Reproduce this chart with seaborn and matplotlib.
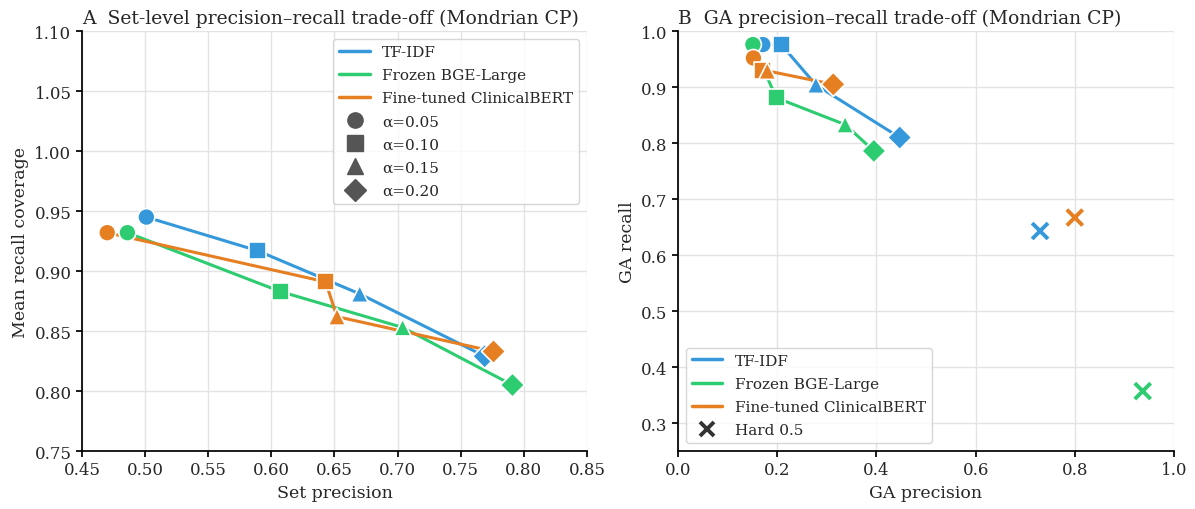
import numpy as np
import pandas as pd
import seaborn as sns
import matplotlib.pyplot as plt
from matplotlib.lines import Line2D

# 数据
methods = ['TF-IDF', 'Frozen BGE-Large', 'Fine-tuned ClinicalBERT']
alphas = ['α=0.05', 'α=0.10', 'α=0.15', 'α=0.20']
colors = {'TF-IDF': '#3498db', 'Frozen BGE-Large': '#2ecc71', 'Fine-tuned ClinicalBERT': '#e67e22'}
markers = {'α=0.05': 'o', 'α=0.10': 's', 'α=0.15': '^', 'α=0.20': 'D'}

set_precision = {
    'TF-IDF': [0.501, 0.589, 0.670, 0.769],
    'Frozen BGE-Large': [0.486, 0.607, 0.704, 0.791],
    'Fine-tuned ClinicalBERT': [0.470, 0.643, 0.652, 0.776],
}
recall_coverage = {
    'TF-IDF': [0.945, 0.917, 0.881, 0.829],
    'Frozen BGE-Large': [0.932, 0.883, 0.853, 0.805],
    'Fine-tuned ClinicalBERT': [0.932, 0.891, 0.862, 0.833],
}
ga_precision = {
    'TF-IDF': [0.171, 0.208, 0.278, 0.447],
    'Frozen BGE-Large': [0.151, 0.198, 0.337, 0.395],
    'Fine-tuned ClinicalBERT': [0.152, 0.170, 0.180, 0.313],
}
ga_recall = {
    'TF-IDF': [0.976, 0.976, 0.904, 0.810],
    'Frozen BGE-Large': [0.976, 0.881, 0.833, 0.786],
    'Fine-tuned ClinicalBERT': [0.952, 0.929, 0.929, 0.905],
}
hard_precision = [0.730, 0.937, 0.800]
hard_recall = [0.643, 0.357, 0.667]

rows = []
for m in methods:
    for i, a in enumerate(alphas):
        rows.append({'method': m, 'alpha': a,
                     'sp': set_precision[m][i], 'rc': recall_coverage[m][i],
                     'gp': ga_precision[m][i], 'gr': ga_recall[m][i]})
df = pd.DataFrame(rows)
hard = pd.DataFrame({'method': methods, 'gp': hard_precision, 'gr': hard_recall})

sns.set_theme(style='whitegrid')
plt.rcParams['font.family'] = ['DejaVu Serif']
plt.rcParams['axes.edgecolor'] = 'black'
plt.rcParams['grid.color'] = '#e3e3e3'
plt.rcParams['xtick.bottom'] = True
plt.rcParams['ytick.left'] = True

fig, axes = plt.subplots(1, 2, figsize=(11.95, 5.1), dpi=100,
                         gridspec_kw={'width_ratios': [505, 496]})
fig.subplots_adjust(left=0.0686, right=0.9824, top=0.937, bottom=0.1137, wspace=0.182)

def draw(ax, x, y):
    sns.lineplot(data=df, x=x, y=y, hue='method', palette=colors, sort=False,
                 estimator=None, linewidth=2.2, legend=False, ax=ax)
    sns.scatterplot(data=df, x=x, y=y, hue='method', style='alpha', palette=colors,
                    markers=markers, s=150, edgecolor='white', linewidth=1.2,
                    legend=False, ax=ax, zorder=3)

# A
ax = axes[0]
draw(ax, 'sp', 'rc')
ax.set_xlim(0.45, 0.85)
ax.set_ylim(0.75, 1.10)
ax.set_xticks(np.arange(0.45, 0.851, 0.05))
ax.set_yticks(np.arange(0.75, 1.101, 0.05))
ax.set_xlabel('Set precision', fontsize=12.5)
ax.set_ylabel('Mean recall coverage', fontsize=12.5)
ax.set_title('A  Set-level precision–recall trade-off (Mondrian CP)', loc='left', fontsize=13.5)
h = [Line2D([0], [0], color=colors[m], lw=2.5, label=m) for m in methods]
h += [Line2D([0], [0], color='#555555', marker=markers[a], ls='', markersize=11, label=a)
      for a in alphas]
ax.legend(handles=h, loc='upper right', fontsize=11, frameon=True, labelspacing=0.6)

# B
ax = axes[1]
draw(ax, 'gp', 'gr')
sns.scatterplot(data=hard, x='gp', y='gr', hue='method', palette=colors, marker='x',
                s=130, linewidth=2.8, legend=False, ax=ax, zorder=3)
ax.set_xlim(0, 1.0)
ax.set_ylim(0.25, 1.0)
ax.set_yticks(np.arange(0.3, 1.01, 0.1))
ax.set_xlabel('GA precision', fontsize=12.5)
ax.set_ylabel('GA recall', fontsize=12.5)
ax.set_title('B  GA precision–recall trade-off (Mondrian CP)', loc='left', fontsize=13.5)
h = [Line2D([0], [0], color=colors[m], lw=2.5, label=m) for m in methods]
h += [Line2D([0], [0], color='#333333', marker='x', ls='', markersize=10, mew=2.8,
             label='Hard 0.5')]
ax.legend(handles=h, loc='lower left', fontsize=11, frameon=True, labelspacing=0.6)

for ax in axes:
    ax.tick_params(labelsize=12, length=4, color='black')
    sns.despine(ax=ax)

plt.savefig('out.png', dpi=100)
